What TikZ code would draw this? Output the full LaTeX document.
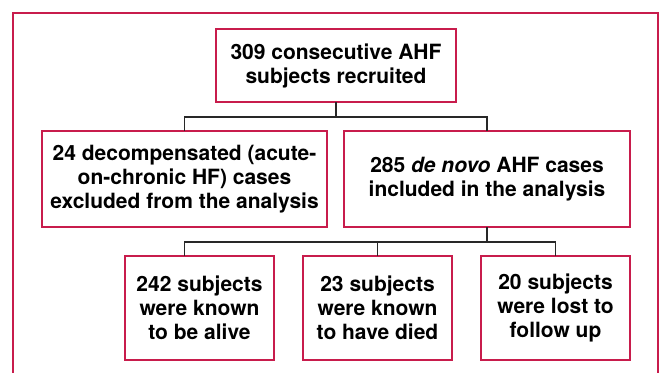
\documentclass[tikz,border=0pt]{standalone}
\usepackage{fontspec}
\setmainfont{TeX Gyre Heros}
\usepackage{tikz}
\definecolor{boxred}{RGB}{200,28,76}
\definecolor{linegray}{RGB}{40,40,40}

\tikzset{
  flowbox/.style={draw=boxred,line width=2.4bp,fill=white,align=center,inner sep=0pt,
    font=\fontsize{21bp}{24bp}\selectfont\bfseries},
  link/.style={draw=linegray,line width=1.2bp}
}

\begin{document}
\begin{tikzpicture}[x=1bp,y=-1bp,outer sep=0pt]
  \useasboundingbox (0,0) rectangle (659,372);
  \draw[draw=boxred,line width=2bp] (12.5,380) -- (12.5,13) -- (657.5,13) -- (657.5,380);
  \node[flowbox,minimum width=240bp,minimum height=73bp] (recruit) at (336,65.5) {309 consecutive AHF\\subjects recruited};
  \node[flowbox,minimum width=285bp,minimum height=96bp] (excluded) at (184.5,179) {24 decompensated (acute-\\on-chronic HF) cases\\excluded from the analysis};
  \node[flowbox,minimum width=286bp,minimum height=96bp] (included) at (487,179) {285 \textit{de novo} AHF cases\\included in the analysis};
  \node[flowbox,minimum width=149bp,minimum height=104bp] (alive) at (199.5,308) {242 subjects\\were known\\to be alive};
  \node[flowbox,minimum width=149bp,minimum height=104bp] (died) at (377.5,308) {23 subjects\\were known\\to have died};
  \node[flowbox,minimum width=149bp,minimum height=104bp] (lost) at (555.5,308) {20 subjects\\were lost to\\follow up};
  % connectors
  \draw[link] (recruit.south) -- ++(0,15) coordinate (split1);
  \draw[link] (split1) -| (excluded.north);
  \draw[link] (split1) -| (included.north);
  \draw[link] (included.south) -- ++(0,15) coordinate (split2);
  \draw[link] (split2) -| (excluded.south |- alive.north);
  \draw[link] (split2) -| (died.north);
  \draw[link] (split2) -| (lost.north);
\end{tikzpicture}
\end{document}
